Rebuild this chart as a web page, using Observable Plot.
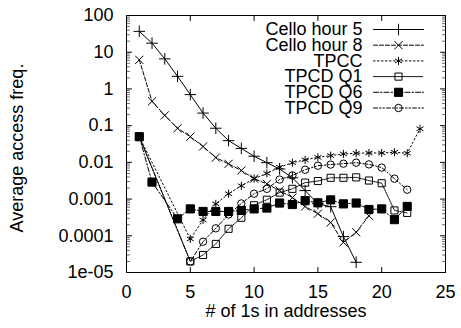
<!DOCTYPE html>
<html>
<head>
<meta charset="utf-8">
<script src="https://cdn.jsdelivr.net/npm/d3@7"></script>
<script src="https://cdn.jsdelivr.net/npm/@observablehq/plot@0.6"></script>
<style>
  html, body { margin: 0; padding: 0; background: #fff; }
  #chart { width: 461px; height: 328px; }
</style>
</head>
<body>
<div id="chart"></div>
<script>
// ---- data ----
const seriesNames = ["Cello hour 5", "Cello hour 8", "TPCC", "TPCD Q1", "TPCD Q6", "TPCD Q9"];

const xCello5 = [1,2,3,4,5,6,7,8,9,10,11,12,13,14,15,16,17,18];
const yCello5 = [37,17.6,6.6,2.2,0.70,0.22,0.085,0.039,0.024,0.0147,0.0098,0.0066,0.0038,0.0017,0.00075,0.00062,0.000095,0.000019];

const xCello8 = [1,2,3,4,5,6,7,8,9,10,11,12,13,14,15,16,17,18,19];
const yCello8 = [6.2,0.46,0.19,0.085,0.05,0.027,0.0135,0.0091,0.006,0.0036,0.0026,0.0017,0.0011,0.00063,0.0004,0.00023,0.000066,0.000125,0.00035];

const xTPCC = [1,5,6,7,8,9,10,11,12,13,14,15,16,17,18,19,20,21,22,23];
const yTPCC = [0.05,0.000082,0.00027,0.00074,0.0014,0.0023,0.0036,0.005,0.0074,0.0098,0.0117,0.0137,0.0153,0.017,0.0177,0.018,0.018,0.0188,0.0177,0.082];

const xQ1 = [1,5,6,7,8,9,10,11,12,13,14,15,16,17,18,19,20,21,22];
const yQ1 = [0.05,0.00002,0.00003,0.00006,0.000155,0.00031,0.00068,0.00096,0.0015,0.0019,0.0028,0.0031,0.0038,0.0038,0.0039,0.0032,0.0027,0.00049,0.00042];

const xQ6 = [1,2,4,5,6,7,8,9,10,11,12,13,14,15,16,17,18,19,20,21,22];
const yQ6 = [0.05,0.0029,0.00029,0.00054,0.00046,0.00046,0.00046,0.00049,0.00054,0.00057,0.00078,0.00071,0.00091,0.00079,0.00095,0.00074,0.00078,0.00052,0.00054,0.000275,0.00063];

const xQ9 = [1,5,6,7,8,9,10,11,12,13,14,15,16,17,18,19,20,21,22];
const yQ9 = [0.05,0.00002,0.000069,0.00016,0.00038,0.00076,0.0014,0.0019,0.0034,0.0044,0.0063,0.0081,0.0087,0.0092,0.0098,0.0088,0.0072,0.0036,0.0018];

const xTicks = [0, 5, 10, 15, 20, 25];
const yTicks = [1e-5, 1e-4, 1e-3, 1e-2, 1e-1, 1, 10, 100];
const yTickLabels = ["1e-05", "0.0001", "0.001", "0.01", "0.1", "1", "10", "100"];
const xTitle = "# of 1s in addresses";
const yTitle = "Average access freq.";

// ---- styles ----
const styles = [
  {symbol: "plus",     r: 3.8, fill: "none",  dash: null},
  {symbol: "times",    r: 3.8, fill: "none",  dash: "4,2"},
  {symbol: "asterisk", r: 3.8, fill: "none",  dash: "1.5,2.5"},
  {symbol: "square",   r: 4.0, fill: "none",  dash: "1,1"},
  {symbol: "square",   r: 4.6, fill: "black", dash: "5,2,1.5,2"},
  {symbol: "circle",   r: 3.7, fill: "none",  dash: "4,2,1.5,2,1.5,2"}
];

const xs = [xCello5, xCello8, xTPCC, xQ1, xQ6, xQ9];
const ys = [yCello5, yCello8, yTPCC, yQ1, yQ6, yQ9];
const tables = xs.map((xa, k) => xa.map((x, i) => ({x, y: ys[k][i]})));

const yMinor = [];
for (const t of yTicks.slice(0, -1)) for (let m = 2; m <= 9; m++) yMinor.push(t * m);

const lineShape = {draw(ctx, l) { ctx.moveTo(0, 0); ctx.lineTo(0, -l); }};
const tickOpts = {shape: lineShape, anchor: "start", stroke: "black", strokeWidth: 1};

const marks = [];
// series
tables.forEach((data, k) => {
  const s = styles[k];
  marks.push(Plot.line(data, {x: "x", y: "y", stroke: "black", strokeWidth: 1, strokeDasharray: s.dash}));
  marks.push(Plot.dot(data, {x: "x", y: "y", symbol: s.symbol, r: s.r, stroke: "black", strokeWidth: 1, fill: s.fill}));
});
// ticks (inward, mirrored)
marks.push(
  Plot.vector(yTicks, {...tickOpts, y: d => d, frameAnchor: "left", rotate: 90, length: 5}),
  Plot.vector(yTicks, {...tickOpts, y: d => d, frameAnchor: "right", rotate: -90, length: 5}),
  Plot.vector(yMinor, {...tickOpts, y: d => d, frameAnchor: "left", rotate: 90, length: 3, strokeOpacity: 0.6}),
  Plot.vector(yMinor, {...tickOpts, y: d => d, frameAnchor: "right", rotate: -90, length: 3, strokeOpacity: 0.6}),
  Plot.vector(xTicks, {...tickOpts, x: d => d, frameAnchor: "bottom", rotate: 0, length: 5}),
  Plot.vector(xTicks, {...tickOpts, x: d => d, frameAnchor: "top", rotate: 180, length: 5})
);
// legend
seriesNames.forEach((name, k) => {
  const s = styles[k];
  const dy = 14 + 15.7 * k;
  marks.push(
    Plot.text([name], {text: d => d, frameAnchor: "top-right", textAnchor: "end", lineAnchor: "middle", dx: -83, dy, fontSize: 18, fill: "black"}),
    Plot.vector([name], {shape: lineShape, anchor: "start", frameAnchor: "top-right", dx: -72, dy, rotate: 90, length: 50, stroke: "black", strokeWidth: 1, strokeDasharray: s.dash}),
    Plot.dot([name], {frameAnchor: "top-right", dx: -47, dy, symbol: s.symbol, r: s.r, stroke: "black", strokeWidth: 1, fill: s.fill})
  );
});
// axes labels + titles
marks.push(
  Plot.axisY(yTicks, {tickSize: 0, tickPadding: 13, fontSize: 18, label: null, tickFormat: d => yTickLabels[yTicks.indexOf(d)]}),
  Plot.axisX(xTicks, {tickSize: 0, tickPadding: 13, fontSize: 18, label: null}),
  Plot.text([xTitle], {text: d => d, frameAnchor: "bottom", dy: 44, lineAnchor: "bottom", textAnchor: "middle", fontSize: 18, fill: "black"}),
  Plot.text([yTitle], {text: d => d, frameAnchor: "left", rotate: -90, dx: -109, dy: 4, textAnchor: "middle", lineAnchor: "middle", fontSize: 18, fill: "black"}),
  Plot.frame({stroke: "black", strokeWidth: 1})
);

const chart = Plot.plot({
  width: 461,
  height: 328,
  marginLeft: 126,
  marginRight: 16,
  marginTop: 15,
  marginBottom: 56,
  style: {fontFamily: "'Liberation Sans', Arial, sans-serif", fontSize: "18px", color: "black", background: "white"},
  x: {domain: [0, 25], label: null},
  y: {type: "log", domain: [1e-5, 100], label: null},
  marks
});
document.getElementById("chart").appendChild(chart);
</script>
</body>
</html>
